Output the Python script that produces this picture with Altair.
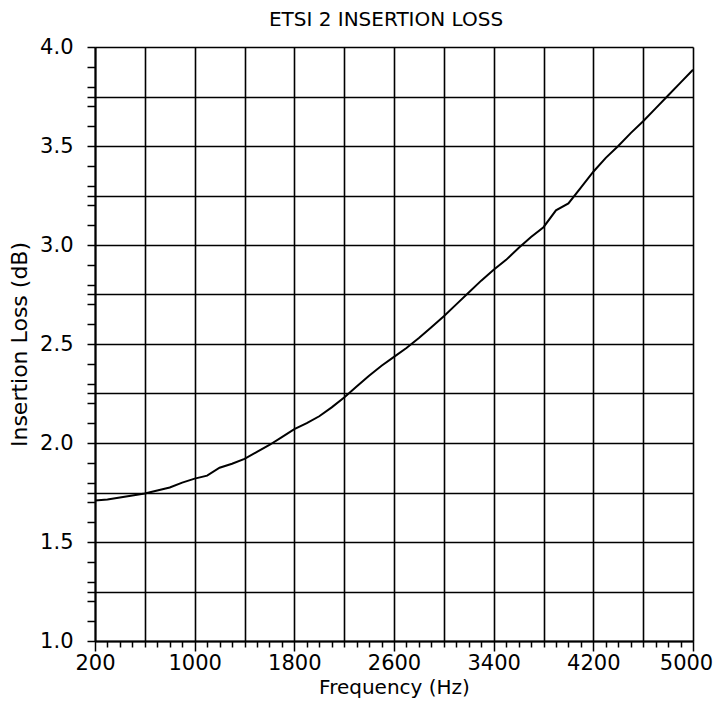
import altair as alt
import pandas as pd

# Frequency (Hz) and insertion loss (dB)
freq_hz = [200, 300, 400, 500, 600, 700, 800, 900, 1000, 1100, 1200, 1300, 1400,
           1500, 1600, 1700, 1800, 1900, 2000, 2100, 2200, 2300, 2400, 2500, 2600,
           2700, 2800, 2900, 3000, 3100, 3200, 3300, 3400, 3500, 3600, 3700, 3800,
           3900, 4000, 4100, 4200, 4300, 4400, 4500, 4600, 4700, 4800, 4900, 5000]
loss_db = [1.71, 1.715, 1.725, 1.735, 1.745, 1.76, 1.775, 1.80, 1.82, 1.835, 1.875,
           1.895, 1.92, 1.955, 1.99, 2.03, 2.07, 2.10, 2.135, 2.18, 2.23, 2.285,
           2.34, 2.39, 2.435, 2.48, 2.53, 2.585, 2.64, 2.70, 2.76, 2.82, 2.875,
           2.925, 2.985, 3.04, 3.09, 3.175, 3.21, 3.29, 3.37, 3.44, 3.50, 3.565,
           3.625, 3.69, 3.755, 3.82, 3.885]

# Axis tick positions
x_ticks = list(range(200, 5001, 100))
y_ticks = sorted(set([round(1 + 0.1 * i, 2) for i in range(31)] +
                     [round(1 + 0.25 * i, 2) for i in range(13)]))

df = pd.DataFrame({"f": freq_hz, "il": loss_db})

FONT = "DejaVu Sans"

x_axis = alt.Axis(
    values=x_ticks,
    format="d",
    title="Frequency (Hz)",
    titleFont=FONT, titleFontSize=20, titleFontWeight="normal", titleColor="black",
    titlePadding=4,
    labelFont=FONT, labelFontSize=21, labelColor="black",
    labelExpr="(datum.value - 200) % 800 == 0 ? datum.label : ''",
    labelOverlap=False, labelFlush=False, labelBound=False, labelPadding=1,
    labelOffset={"condition": {"test": "datum.value == 5000", "value": -7}, "value": 0},
    grid=True, gridColor="black", gridWidth=1.6,
    gridOpacity={"condition": {"test": "(datum.value - 200) % 400 == 0", "value": 1}, "value": 0},
    ticks=True, tickColor="black", tickWidth=1.5,
    tickSize={"condition": {"test": "(datum.value - 200) % 800 == 0", "value": 10}, "value": 6},
    domain=True, domainColor="black", domainWidth=2,
)

y_axis = alt.Axis(
    values=y_ticks,
    title="Insertion Loss (dB)",
    titleFont=FONT, titleFontSize=22, titleFontWeight="normal", titleColor="black",
    titlePadding=8,
    labelFont=FONT, labelFontSize=21, labelColor="black",
    labelExpr="abs(datum.value * 2 - round(datum.value * 2)) < 0.001 ? format(datum.value, '.1f') : ''",
    labelOverlap=False, labelFlush=False, labelBound=False, labelPadding=14,
    grid=True, gridColor="black", gridWidth=1.6,
    gridOpacity={"condition": {"test": "abs(datum.value * 4 - round(datum.value * 4)) < 0.001", "value": 1}, "value": 0},
    ticks=True, tickColor="black", tickWidth=1.5, tickSize=8,
    domain=True, domainColor="black", domainWidth=2,
)

chart = (
    alt.Chart(df)
    .mark_line(color="black", strokeWidth=2)
    .encode(
        x=alt.X("f:Q", scale=alt.Scale(domain=[200, 5000], nice=False, zero=False), axis=x_axis),
        y=alt.Y("il:Q", scale=alt.Scale(domain=[1.0, 4.0], nice=False, zero=False), axis=y_axis),
    )
    .properties(
        width=598,
        height=594,
        title=alt.TitleParams(
            "ETSI 2 INSERTION LOSS",
            font=FONT, fontSize=20, fontWeight="normal", color="black",
            anchor="middle", offset=6, dx=-8,
        ),
        autosize=alt.AutoSizeParams(type="none"),
        padding={"left": 87, "top": 39, "right": 20, "bottom": 59},
    )
    .configure_view(stroke="black", strokeWidth=2)
    .configure(background="white")
)

chart.save("out.html", embed_options={"renderer": "svg", "actions": False})
